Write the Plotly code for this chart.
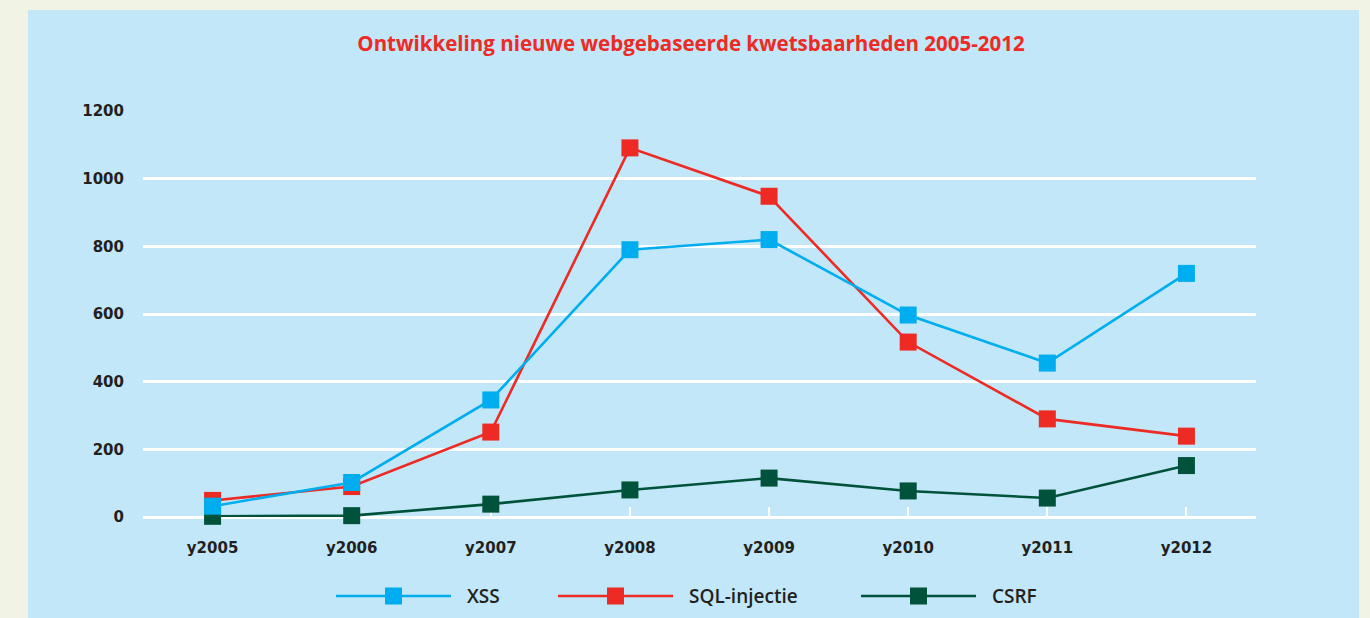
import plotly.graph_objects as go

categories = ["y2005", "y2006", "y2007", "y2008", "y2009", "y2010", "y2011", "y2012"]
xss = [32, 102, 346, 790, 820, 597, 455, 720]
sql = [49, 90, 251, 1091, 948, 517, 290, 239]
csrf = [2, 4, 38, 80, 115, 77, 56, 152]

series = [
    ("XSS", xss, "#00adef"),
    ("SQL-injectie", sql, "#ee2a24"),
    ("CSRF", csrf, "#00533a"),
]

# legend layout (pixel positions of each legend entry's line start)
legend_line_start = [336, 558, 861]
LEG_LINE_LEN = 115
LEG_TEXT_GAP = 14
LEG_Y = 596
LEG_MARK = 17

TFONT = "DejaVu Sans"
FONT = "Open Sans"
TXT = "#231f20"

fig = go.Figure()
# draw in reverse so that XSS sits on top, as in the original
for name, vals, col in reversed(series):
    fig.add_trace(go.Scatter(
        x=categories, y=vals, name=name, mode="lines+markers",
        line=dict(color=col, width=2.6),
        marker=dict(symbol="square", size=17, color=col),
        cliponaxis=False, showlegend=False,
    ))

W, H = 1370, 618
L, R, T, B = 143, 1256, 111, 517
pw, ph = R - L, B - T

def px_x(v):
    return (v - L) / pw

def px_y(v):
    return (B - v) / ph

fig.add_shape(type="rect", xref="paper", yref="paper",
              x0=px_x(28), x1=px_x(1359), y0=px_y(640), y1=px_y(10),
              fillcolor="#c1e7f8", line=dict(width=0), layer="below")

# custom legend
for (name, vals, col), x0 in zip(series, legend_line_start):
    x1 = x0 + LEG_LINE_LEN
    xm = (x0 + x1) / 2
    fig.add_shape(type="line", xref="paper", yref="paper",
                  x0=px_x(x0), x1=px_x(x1), y0=px_y(LEG_Y), y1=px_y(LEG_Y),
                  line=dict(color=col, width=2.6), layer="above")
    fig.add_shape(type="rect", xref="paper", yref="paper",
                  x0=px_x(xm - LEG_MARK / 2), x1=px_x(xm + LEG_MARK / 2),
                  y0=px_y(LEG_Y + LEG_MARK / 2), y1=px_y(LEG_Y - LEG_MARK / 2),
                  fillcolor=col, line=dict(width=0), layer="above")
    fig.add_annotation(text=name, xref="paper", yref="paper",
                       x=px_x(x1 + LEG_TEXT_GAP), y=px_y(LEG_Y),
                       xanchor="left", yanchor="middle", showarrow=False,
                       font=dict(family=FONT, size=19, color=TXT, weight=600))

fig.update_layout(
    width=W, height=H,
    margin=dict(l=L, r=W - R, t=T, b=H - B, pad=0),
    paper_bgcolor="#f1f3e5",
    plot_bgcolor="rgba(0,0,0,0)",
    title=dict(text="<b>Ontwikkeling nieuwe webgebaseerde kwetsbaarheden 2005-2012</b>",
               x=691 / W, xanchor="center", y=1 - 44 / H, yanchor="middle",
               font=dict(family=FONT, size=20.5, color="#ee2a24")),
    font=dict(family=FONT, size=15, color=TXT),
    showlegend=False,
    xaxis=dict(type="category", range=[-0.5, 7.5], showgrid=False, zeroline=False,
               showline=False, ticks="inside", ticklen=10, tickwidth=2, tickcolor="white",
               ticklabelstandoff=20, layer="below traces",
               tickfont=dict(family=TFONT, size=15, color=TXT, weight="bold")),
    yaxis=dict(range=[0, 1200], dtick=200, showgrid=True, gridcolor="white", gridwidth=3,
               zeroline=True, zerolinecolor="white", zerolinewidth=3, showline=False,
               ticks="", ticklabelstandoff=18, layer="below traces",
               tickfont=dict(family=TFONT, size=15, color=TXT, weight="bold")),
)

fig.write_html("out.html", config={"displayModeBar": False},
               post_script="document.body.style.margin='0';document.body.style.overflow='hidden';")
